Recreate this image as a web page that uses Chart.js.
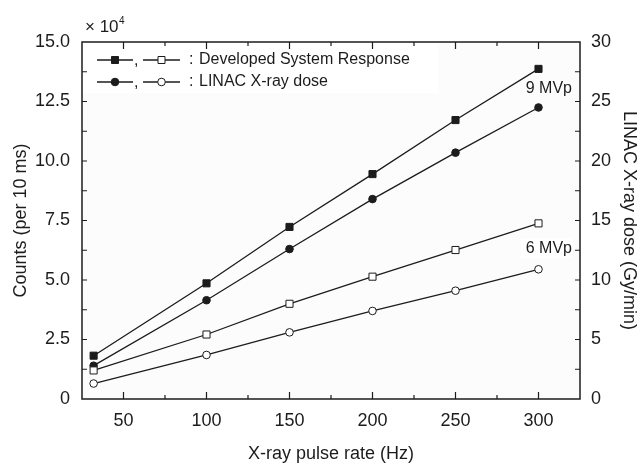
<!DOCTYPE html>
<html>
<head>
<meta charset="utf-8">
<script src="https://cdn.jsdelivr.net/npm/chart.js@4.4.1/dist/chart.umd.min.js"></script>
<style>
  html, body { margin: 0; padding: 0; background: #fff; }
  #wrap { width: 643px; height: 465px; }
</style>
</head>
<body>
<div id="wrap"><canvas id="chart" width="643" height="465"></canvas></div>
<script>
// data (counts in units of 10^4, dose in Gy/min)
const pulseRates = [32, 100, 150, 200, 250, 300];
const counts9MVp = [1.82, 4.86, 7.23, 9.45, 11.72, 13.87];
const counts6MVp = [1.20, 2.71, 4.00, 5.14, 6.26, 7.38];
const dose9MVp = [2.8, 8.3, 12.6, 16.8, 20.7, 24.5];
const dose6MVp = [1.3, 3.7, 5.6, 7.4, 9.1, 10.9];

const xTicks = [50, 100, 150, 200, 250, 300];
const countTicks = [0, 2.5, 5, 7.5, 10, 12.5, 15];
const doseTicks = [0, 5, 10, 15, 20, 25, 30];

const FONT = "'Liberation Sans', Arial, sans-serif";
const INK = '#1c1c1c';

function points(ys) {
    return pulseRates.map((x, i) => ({ x: x, y: ys[i] }));
}

function series(label, ys, axis, style, filled) {
    return {
        label: label,
        data: points(ys),
        yAxisID: axis,
        borderColor: INK,
        borderWidth: 1.3,
        pointStyle: style,
        pointRadius: style === 'rect' ? 5 : 3.8,
        pointBorderWidth: 1,
        pointBorderColor: INK,
        pointBackgroundColor: filled ? INK : '#fff',
        tension: 0
    };
}

// background, frame, inside ticks, legend and labels
const decor = {
    id: 'decor',
    beforeDraw(chart) {
        const { ctx, chartArea: a } = chart;
        ctx.save();
        ctx.fillStyle = '#fcfcfc';
        ctx.fillRect(a.left, a.top, a.right - a.left, a.bottom - a.top);
        ctx.fillStyle = '#fff';
        ctx.fillRect(a.left + 1, a.top + 1, 355, 50);
        ctx.restore();
    },
    afterDraw(chart) {
        const { ctx, chartArea: a, scales: { x, y, y1 } } = chart;
        ctx.save();
        ctx.strokeStyle = INK;
        ctx.lineWidth = 1.2;
        ctx.beginPath();
        for (let v = 50; v <= 300; v += 25) {
            const px = x.getPixelForValue(v);
            const len = v % 50 ? 4 : 7;
            ctx.moveTo(px, a.bottom); ctx.lineTo(px, a.bottom - len);
            ctx.moveTo(px, a.top); ctx.lineTo(px, a.top + len);
        }
        for (let v = 1.25; v < 15; v += 1.25) {
            const py = y.getPixelForValue(v);
            ctx.moveTo(a.left, py); ctx.lineTo(a.left + 5, py);
        }
        for (let v = 2.5; v < 30; v += 2.5) {
            const py = y1.getPixelForValue(v);
            ctx.moveTo(a.right, py); ctx.lineTo(a.right - 5, py);
        }
        ctx.stroke();
        ctx.lineWidth = 1.5;
        ctx.strokeRect(a.left, a.top, a.right - a.left, a.bottom - a.top);

        // x10^4 multiplier
        ctx.fillStyle = INK;
        ctx.textBaseline = 'alphabetic';
        ctx.font = '17px ' + FONT;
        ctx.fillText('\u00d7 10', a.left + 3, a.top - 10);
        ctx.font = '10px ' + FONT;
        ctx.fillText('4', a.left + 37, a.top - 18);

        // legend
        const rows = [
            { y: a.top + 18, style: 'rect', text: 'Developed System Response' },
            { y: a.top + 40, style: 'circle', text: 'LINAC X-ray dose' }
        ];
        rows.forEach(r => {
            [[97, 133, true], [143, 180, false]].forEach(([x0, x1, filled]) => {
                ctx.lineWidth = 1.3;
                ctx.beginPath();
                ctx.moveTo(x0, r.y); ctx.lineTo(x1, r.y);
                ctx.stroke();
                const cx = (x0 + x1) / 2;
                ctx.fillStyle = filled ? INK : '#fff';
                ctx.lineWidth = 1;
                ctx.beginPath();
                if (r.style === 'rect') ctx.rect(cx - 3.5, r.y - 3.5, 7, 7);
                else ctx.arc(cx, r.y, 3.8, 0, Math.PI * 2);
                ctx.fill();
                ctx.stroke();
            });
            ctx.fillStyle = INK;
            ctx.font = '16px ' + FONT;
            ctx.textBaseline = 'middle';
            ctx.fillText(',', 134, r.y + 1);
            ctx.fillText(':', 189, r.y);
            ctx.fillText(r.text, 199, r.y);
        });

        // energy labels
        ctx.font = '16px ' + FONT;
        ctx.textAlign = 'right';
        ctx.textBaseline = 'middle';
        const last = pulseRates.length - 1;
        const y9 = y.getPixelForValue(counts9MVp[last]) + 20;
        ctx.fillText('9 MVp', 572, y9);
        const y6 = (y.getPixelForValue(counts6MVp[last]) + y1.getPixelForValue(dose6MVp[last])) / 2 + 2;
        ctx.fillStyle = '#fff';
        ctx.fillRect(521, y6 - 10, 52, 20);
        ctx.fillStyle = INK;
        ctx.fillText('6 MVp', 572, y6);
        ctx.restore();
    }
};

const tickFont = { family: FONT, size: 18 };
const titleFont = { family: FONT, size: 18 };

const ctx = document.getElementById('chart').getContext('2d');
const chart = new Chart(ctx, {
    type: 'line',
    data: {
        datasets: [
            series('Developed System Response 9 MVp', counts9MVp, 'y', 'rect', true),
            series('Developed System Response 6 MVp', counts6MVp, 'y', 'rect', false),
            series('LINAC X-ray dose 9 MVp', dose9MVp, 'y1', 'circle', true),
            series('LINAC X-ray dose 6 MVp', dose6MVp, 'y1', 'circle', false)
        ]
    },
    options: {
        responsive: false,
        animation: false,
        devicePixelRatio: 1,
        layout: { padding: { top: 42, left: 0, right: 0, bottom: 0 } },
        plugins: {
            legend: { display: false },
            tooltip: { enabled: false }
        },
        scales: {
            x: {
                type: 'linear',
                min: 25,
                max: 325,
                afterBuildTicks: s => { s.ticks = xTicks.map(v => ({ value: v })); },
                afterFit: s => { s.height = 66; },
                grid: { display: false, drawTicks: false },
                border: { display: false },
                ticks: { padding: 11, color: INK, font: tickFont, autoSkip: false, maxRotation: 0 },
                title: { display: true, text: 'X-ray pulse rate (Hz)', color: INK, font: titleFont, padding: { top: 0, bottom: 0 } }
            },
            y: {
                position: 'left',
                min: 0,
                max: 15,
                afterBuildTicks: s => { s.ticks = countTicks.map(v => ({ value: v })); },
                afterFit: s => { s.width = 82; },
                grid: { display: false, drawTicks: false },
                border: { display: false },
                ticks: { padding: 12, color: INK, font: tickFont, autoSkip: false, callback: v => v === 0 ? '0' : v.toFixed(1) },
                title: { display: true, text: 'Counts (per 10 ms)', color: INK, font: titleFont, padding: { top: 10, bottom: 0 } }
            },
            y1: {
                position: 'right',
                min: 0,
                max: 30,
                afterBuildTicks: s => { s.ticks = doseTicks.map(v => ({ value: v })); },
                afterFit: s => { s.width = 63; },
                grid: { display: false, drawTicks: false },
                border: { display: false },
                ticks: { padding: 11, color: INK, font: tickFont, autoSkip: false },
                title: { display: true, text: 'LINAC X-ray dose (Gy/min)', color: INK, font: titleFont, padding: { top: 3, bottom: 0 } }
            }
        }
    },
    plugins: [decor]
});
</script>
</body>
</html>
